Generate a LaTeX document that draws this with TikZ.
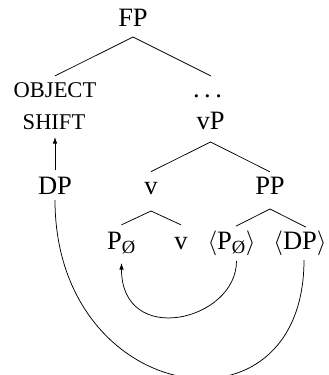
\documentclass[tikz,border=0pt]{standalone}
\usepackage{fontspec}
\setmainfont{Liberation Serif}
\usetikzlibrary{arrows.meta}
\begin{document}
\begin{tikzpicture}[x=1pt,y=-1pt,
  lbl/.style={inner sep=0pt,anchor=base,font=\fontsize{26.5}{30}\selectfont},
  sclbl/.style={inner sep=0pt,anchor=base,font=\fontsize{22.5}{26}\selectfont},
  edge/.style={line width=0.75pt},
  arr/.style={line width=0.75pt,-{Latex[length=6.5pt,width=4.5pt]}}]
\useasboundingbox (0,0) rectangle (329,375);
\node[lbl] (fp) at (133,26) {FP};
\node[sclbl] (obj) at (55,97) {OBJECT};
\node[lbl] (dots) at (207.5,97) {.\hspace{4.5pt}.\hspace{4.5pt}.};
\node[sclbl] (shift) at (54,129) {SHIFT};
\node[lbl] (vp) at (210.5,129) {vP};
\node[lbl] (dp) at (55,194) {DP};
\node[lbl] (v) at (151,194) {v};
\node[lbl] (pp) at (270,194) {PP};
\node[lbl] (p1) at (121.5,249) {P\textsubscript{Ø}};
\node[lbl] (v2) at (181,249) {v};
\node[lbl] (ap) at (231.5,249) {$\langle$P\textsubscript{Ø}$\rangle$};
\node[lbl] (adp) at (300,249) {$\langle$DP$\rangle$};
% tree edges
\draw[edge] ([yshift=6pt]obj.north) -- ([yshift=-11pt]fp.base) -- ([xshift=3.5pt,yshift=18pt]dots.north);
\draw[edge] ([yshift=10pt]v.north) -- ([yshift=-13pt]vp.base) -- ([yshift=4.6pt]pp.north);
\draw[edge] ([yshift=6.6pt]p1.north) -- ([yshift=-17pt]v.base) -- ([yshift=11.8pt]v2.north);
\draw[edge] ([xshift=4.5pt,yshift=4pt]ap.north) -- ([yshift=-15pt]pp.base) -- ([xshift=6pt,yshift=3pt]adp.north);
% movement arrows
\draw[arr] ([yshift=6.6pt]dp.north) -- ([xshift=1pt,yshift=-8pt]shift.base);
\draw[arr] ([xshift=5pt,yshift=-12pt]ap.base) .. controls +(0,60) and +(0,85) .. ([yshift=-14pt]p1.base);
\draw[edge] ([xshift=4pt,yshift=-11pt]adp.base) .. controls +(0,185) and +(0,205) .. ([yshift=-6pt]dp.base);
\end{tikzpicture}
\end{document}
